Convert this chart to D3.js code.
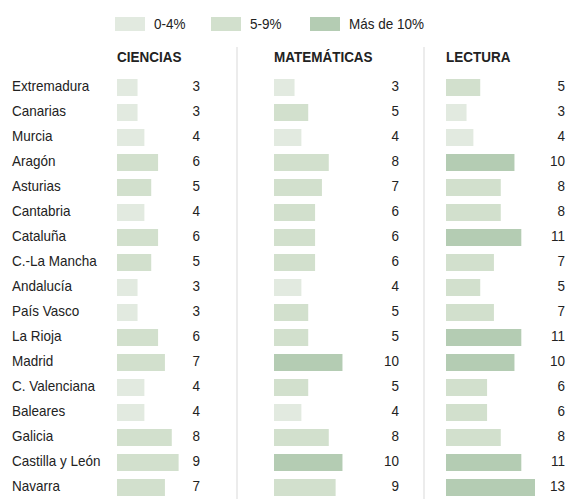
<html>
<head>
<script src="https://d3js.org/d3.v7.min.js"></script>
<style>
  body { margin: 0; background: #fff; }
  text { font-family: "Liberation Sans", Arial, sans-serif; fill: #222; }
</style>
</head>
<body>
<script>
// datos
var regiones = ["Extremadura", "Canarias", "Murcia", "Aragón", "Asturias", "Cantabria", "Cataluña",
  "C.-La Mancha", "Andalucía", "País Vasco", "La Rioja", "Madrid", "C. Valenciana", "Baleares",
  "Galicia", "Castilla y León", "Navarra"];
var ciencias    = [3, 3, 4, 6, 5, 4, 6, 5, 3, 3, 6, 7, 4, 4, 8, 9, 7];
var matematicas = [3, 5, 4, 8, 7, 6, 6, 6, 4, 5, 5, 10, 5, 4, 8, 10, 9];
var lectura     = [5, 3, 4, 10, 8, 8, 11, 7, 5, 7, 11, 10, 6, 6, 8, 11, 13];
var materias = ["CIENCIAS", "MATEMÁTICAS", "LECTURA"];
var leyenda = ["0-4%", "5-9%", "Más de 10%"];

var w = 569;
var h = 499;
var sx = 0.9; // letra estrecha (no hay Arial Narrow)

var colores = ["#e2eae0", "#d2e0cd", "#b4ccb3"];
var color = d3.scaleThreshold().domain([5, 10]).range(colores);

var y = d3.scalePoint().domain(regiones).range([87.5, 487.5]);
var x = d3.scaleLinear().domain([0, 13]).range([0, 89]);

var svg = d3.select("body").append("svg").attr("width", w).attr("height", h);

function pos(px, py){ return "translate(" + px + "," + py + ") scale(" + sx + ",1)"; }

// leyenda
var leg = svg.selectAll(".leg").data(leyenda).enter().append("g")
  .attr("transform", function(d, i){ return "translate(" + [115, 211, 310][i] + ",17)"; });
leg.append("rect").attr("width", 30).attr("height", 14)
  .attr("fill", function(d, i){ return colores[i]; });
leg.append("text").attr("transform", pos(39, 12)).style("font-size", "15px").text(function(d){ return d; });

// separadores
[237, 424].forEach(function(lx){
  svg.append("line").attr("x1", lx).attr("x2", lx).attr("y1", 47).attr("y2", h)
    .attr("stroke", "#d9d9d9").attr("stroke-width", 1);
});

// nombres
svg.selectAll(".reg").data(regiones).enter().append("text")
  .attr("transform", function(d){ return pos(12, y(d) + 3); })
  .style("font-size", "15px").text(function(d){ return d; });

var columnas = [
  {nombre: materias[0], valores: ciencias, x0: 117, num: 200},
  {nombre: materias[1], valores: matematicas, x0: 274, num: 399},
  {nombre: materias[2], valores: lectura, x0: 446, num: 565}
];

columnas.forEach(function(c){
  var g = svg.append("g");
  g.append("text").attr("transform", pos(c.x0, 62))
    .style("font-size", "15px").style("font-weight", "bold").text(c.nombre);
  g.selectAll("rect").data(c.valores).enter().append("rect")
    .attr("x", c.x0)
    .attr("y", function(d, i){ return y(regiones[i]) - 8.5; })
    .attr("width", function(d){ return x(d); })
    .attr("height", 17)
    .attr("fill", function(d){ return color(d); });
  g.selectAll(".num").data(c.valores).enter().append("text")
    .attr("transform", function(d, i){ return pos(c.num, y(regiones[i]) + 3); })
    .attr("text-anchor", "end").style("font-size", "15px")
    .text(function(d){ return d; });
});
</script>
</body>
</html>
